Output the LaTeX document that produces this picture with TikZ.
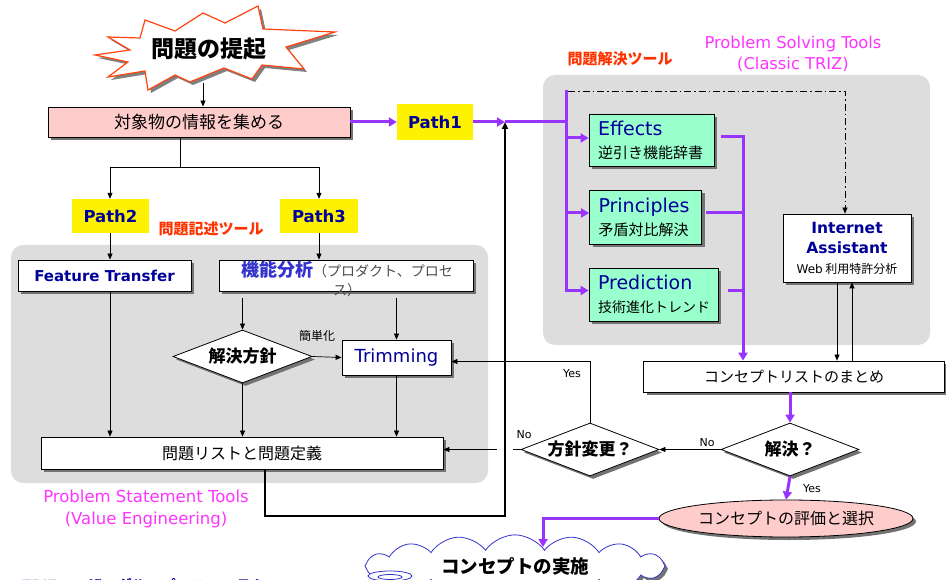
\documentclass[tikz,border=0pt]{standalone}
\usepackage{fontspec}
\setmainfont{Noto Sans CJK JP}
\newfontfamily\lat{DejaVu Sans}
\usetikzlibrary{arrows.meta,shapes.geometric,shapes.symbols,shadows,calc}
\definecolor{purp}{HTML}{9933FF}
\definecolor{navy}{HTML}{000099}
\definecolor{boxgreen}{HTML}{99FFCC}
\definecolor{boxpink}{HTML}{FFCCCC}
\definecolor{panelgray}{HTML}{DDDDDD}
\definecolor{magent}{HTML}{FF33FF}
\definecolor{redlab}{HTML}{FF3300}
\definecolor{burst}{HTML}{FF4411}
\definecolor{cloudblue}{HTML}{3333CC}
\definecolor{funcblue}{HTML}{3333CC}
\begin{document}
\begin{tikzpicture}[x=1pt,y=-1pt,
  shad/.style={drop shadow={shadow xshift=3pt,shadow yshift=-3pt,fill=black!55,opacity=1}},
  box/.style={draw=black,line width=0.8pt,fill=white,inner sep=0pt,shad},
  pbox/.style={box,fill=boxpink},
  gbox/.style={box,fill=boxgreen,align=left,inner xsep=9pt,font=\fontsize{15}{23}\selectfont},
  ybox/.style={fill=yellow,inner sep=0pt,font=\lat\fontsize{16.5}{18}\selectfont\bfseries,text=navy},
  dia/.style={diamond,draw=black,line width=0.8pt,fill=white,inner sep=0pt,aspect=2.6,shad,font=\fontsize{17}{19}\selectfont\bfseries},
  arr/.style={-{Triangle[length=6pt,width=5pt]},line width=0.7pt},
  thk/.style={-{Triangle[length=7pt,width=6pt]},line width=2pt},
  pline/.style={draw=purp,line width=3pt},
  parrow/.style={pline,-{Triangle[length=8pt,width=9pt]}},
  panel/.style={fill=panelgray,rounded corners=12pt},
  small/.style={font=\lat\fontsize{11}{13}\selectfont},
  redl/.style={font=\fontsize{15}{16}\selectfont\bfseries,text=redlab},
  magl/.style={font=\lat\fontsize{16.3}{21.5}\selectfont,text=magent,align=center}
]
\useasboundingbox (0,0) rectangle (946,580);

% panels
\fill[panel] (543,75) rectangle (930,345);
\fill[panel] (11,245) rectangle (488,483);

% starburst
\def\burstpath{(145,20) -- (175,31) -- (203,13) -- (225,23) -- (258,6) -- (263,29) -- (335,32) -- (286,47) -- (304,69) -- (262,65) -- (252,79) -- (224,68) -- (190,82) -- (175,75) -- (148,90) -- (145,71) -- (108,77) -- (128,62) -- (95,55) -- (130,50) -- (108,37) -- (140,38) -- cycle}
\fill[black!50,shift={(3,3)}] \burstpath;
\filldraw[fill=white,draw=burst,line width=1.2pt] \burstpath;
\node (issue) at (209,49) {\fontsize{23}{25}\selectfont\bfseries 問題の提起};
\coordinate (sbottom) at (203,83);

% top box
\node[pbox,minimum width=302pt,minimum height=30pt,font=\fontsize{17}{19}\selectfont] (info) at (199,122) {対象物の情報を集める};
\draw[arr] (sbottom) -- (sbottom |- info.north);

% paths
\node[ybox,minimum width=76pt,minimum height=36pt] (path1) at (435,122) {Path1};
\node[ybox,minimum width=77pt,minimum height=34pt] (path2) at (110.5,216) {Path2};
\node[ybox,minimum width=78pt,minimum height=34pt] (path3) at (319,216) {Path3};

% labels
\node[redl] (lsolve) at (620,59) {問題解決ツール};
\node[redl] (lstate) at (211,229) {問題記述ツール};
\node[magl] (pst) at (793,54) {Problem Solving Tools\\(Classic TRIZ)};
\node[magl,font=\lat\fontsize{16.5}{21.5}\selectfont] (pvt) at (146,509) {Problem Statement Tools\\(Value Engineering)};

% right panel boxes
\node[gbox,minimum width=125pt,minimum height=52pt,text width=107pt] (effects) at (651.5,140)
  {{\lat\fontsize{19}{23}\selectfont\color{navy}Effects}\\逆引き機能辞書};
\node[gbox,minimum width=112pt,minimum height=54pt,text width=94pt] (principles) at (645.5,217)
  {{\lat\fontsize{19}{23}\selectfont\color{navy}Principles}\\矛盾対比解決};
\node[gbox,minimum width=129pt,minimum height=53pt,text width=111pt] (prediction) at (653.5,294.5)
  {{\lat\fontsize{19}{23}\selectfont\color{navy}Prediction}\\{\fontsize{14}{23}\selectfont 技術進化トレンド}};
\node[box,minimum width=128pt,minimum height=68pt,align=center,font=\fontsize{12}{20}\selectfont] (internet) at (847,248)
  {{\lat\fontsize{15.5}{20}\selectfont\bfseries\color{navy}Internet}\\{\lat\fontsize{15.5}{20}\selectfont\bfseries\color{navy}Assistant}\\{\lat Web} 利用特許分析};

\node[box,minimum width=301pt,minimum height=31pt,font=\fontsize{15}{17}\selectfont] (conclist) at (794,376.5) {コンセプトリストのまとめ};
\node[dia,minimum width=138pt,minimum height=53pt] (solved) at (790,449.5) {解決？};
\node[dia,minimum width=138pt,minimum height=53pt] (policy) at (590,449.5) {方針変更？};
\node[ellipse,draw=black,line width=0.8pt,fill=boxpink,shad,inner sep=0pt,minimum width=254pt,minimum height=37pt,font=\fontsize{16}{18}\selectfont] (eval) at (786,518.5) {コンセプトの評価と選択};
\node[cloud,cloud puffs=16,cloud puff arc=110,aspect=5,draw=cloudblue,line width=0.8pt,fill=white,shad,inner sep=0pt,minimum width=300pt,minimum height=50pt,font=\fontsize{18.5}{22}\selectfont\bfseries] (cloud) at (515,566) {コンセプトの実施};
\draw[cloudblue,line width=0.8pt,fill=white] (390,576) ellipse (22pt and 5pt);
\draw[cloudblue,line width=0.8pt] (390,577) ellipse (12pt and 2.5pt);

% left panel boxes
\node[box,minimum width=173pt,minimum height=31pt,font=\lat\fontsize{15}{17}\selectfont\bfseries,text=navy] (feature) at (104.5,275.5) {Feature Transfer};
\node[box,minimum width=254pt,minimum height=31pt] (funcanal) at (346,275.5) {};
\node[align=center,font=\fontsize{14}{19}\selectfont,text=black!70] (functext) at (347,279)
  {{\fontsize{18}{19}\selectfont\bfseries\color{funcblue}機能分析}（プロダクト、プロセ\\ス）};
\node[dia,minimum width=139pt,minimum height=53pt] (policydia) at (242.5,356.5) {解決方針};
\node[box,minimum width=109pt,minimum height=35pt,font=\lat\fontsize{18}{20}\selectfont,text=navy] (trimming) at (396.5,357.5) {Trimming};
\node[box,minimum width=402pt,minimum height=32pt,font=\fontsize{16}{18}\selectfont] (problist) at (242,453) {問題リストと問題定義};

% bottom partial footer text
\node[anchor=north west,inner sep=0pt,font=\fontsize{15}{17}\selectfont\bfseries,text=navy] (footer) at (22,578) {TRIZユーザーグループ・フォーラム};

% coordinates
\coordinate (J) at (505,122);
\coordinate (trunktop) at (566,90);
\coordinate (trunkbot) at (566,292);
\coordinate (ea) at ([yshift=2pt]effects.west);
\coordinate (pa) at ([yshift=4pt]principles.west);
\coordinate (pra) at ([yshift=4pt]prediction.west);
\coordinate (busx) at (743,0);
\coordinate (dd) at (845,91);
\coordinate (ia) at ([xshift=-10pt]internet.south);
\coordinate (ib) at ([xshift=5pt]internet.south);
\coordinate (loopc) at (505,516);
\coordinate (fork) at (180,167);
\coordinate (ct) at (543,547);
\coordinate (gapR) at (513,0);
\coordinate (gapL) at (497,0);
\coordinate (tr) at ([yshift=-4pt]trimming.east);
\coordinate (fa1) at ([yshift=-7pt]funcanal.south -| policydia.north);
\coordinate (fa2) at ([yshift=-7pt]funcanal.south -| trimming.north);
\coordinate (p2x) at (110,0);
\coordinate (p3x) at (319,0);

% purple flow
\draw[parrow] (info.east) -- (path1.west);
\draw[parrow] (path1.east) -- (J);
\draw[pline] (J) -- (J -| trunktop);
\draw[pline] (trunktop) -- (trunkbot);
\draw[parrow] (trunktop |- ea) -- (ea);
\draw[parrow] (trunktop |- pa) -- (pa);
\draw[parrow] (trunktop |- pra) -- (pra);
\draw[parrow] ([xshift=7pt,yshift=3pt]effects.east) -| (busx |- conclist.north);
\draw[pline] ([xshift=4pt,yshift=4pt]principles.east) -- (busx |- pa);
\draw[pline] ([xshift=10pt,yshift=4pt]prediction.east) -- (busx |- pra);
\draw[parrow] (solved.north |- conclist.south) -- (solved.north);
\draw[parrow] (solved.south) -- (eval.north);
\draw[parrow] (eval.west) -| (ct);

% dash-dot
\draw[arr,dash pattern=on 7pt off 3pt on 1.5pt off 3pt] ([xshift=2pt]trunktop |- dd) -- (dd) -- (internet.north -| dd);

% internet links
\draw[arr] (ia) -- (ia |- conclist.north);
\draw[arr] (ib |- conclist.north) -- (ib);

% decisions
\draw[arr] (solved.west) -- (policy.east);
\draw[arr] (policy.north) |- (tr);
\draw[line width=0.7pt] (policy.west) -- (policy.west -| gapR);
\draw[arr] (policy.west -| gapL) -- (problist.east |- policy.west);

% thick loop
\draw[thk] ([xshift=23pt]problist.south) |- (loopc) -- (J);

% left flow
\draw[line width=0.7pt] ([xshift=-19pt]info.south) -- (fork);
\draw[arr] (fork) -| (p2x |- path2.north);
\draw[arr] (fork) -| (p3x |- path3.north);
\draw[arr] (p2x |- path2.south) -- (p2x |- feature.north);
\draw[arr] (p3x |- path3.south) -- (p3x |- funcanal.north);
\draw[arr] (fa1) -- (policydia.north);
\draw[arr] (fa2) -- (trimming.north);
\draw[arr] (policydia.east) -- (trimming.west);
\draw[arr] (p2x |- feature.south) -- (p2x |- problist.north);
\draw[arr] (policydia.south) -- (policydia.south |- problist.north);
\draw[arr] (trimming.south) -- (trimming.south |- problist.north);

% small labels
\node[small,font=\fontsize{12}{14}\selectfont] (lsimp) at (317,336) {簡単化};
\node[small] (lyes1) at (572,374) {Yes};
\node[small] (lno1) at (524,435) {No};
\node[small] (lno2) at (707,443) {No};
\node[small] (lyes2) at (812,489) {Yes};
\end{tikzpicture}
\end{document}
